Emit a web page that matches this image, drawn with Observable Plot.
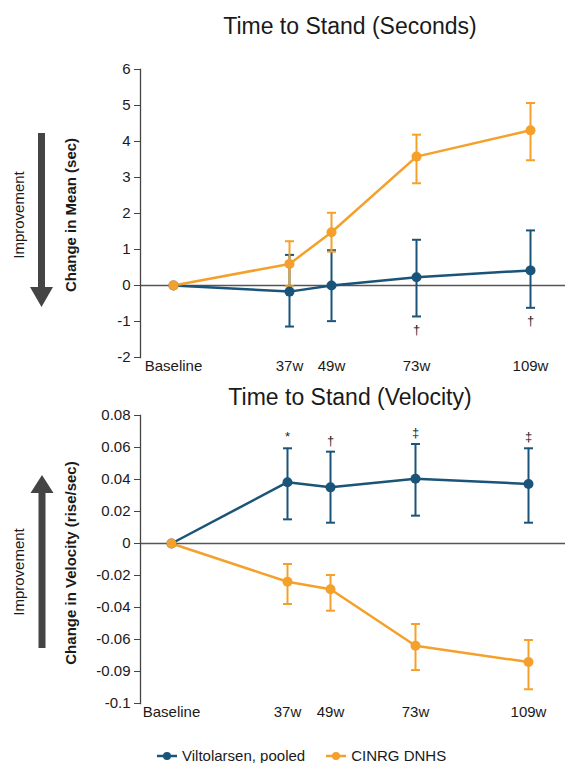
<!DOCTYPE html>
<html>
<head>
<meta charset="utf-8">
<script src="https://cdn.jsdelivr.net/npm/d3@7"></script>
<script src="https://cdn.jsdelivr.net/npm/@observablehq/plot@0.6"></script>
<style>
  html, body { margin: 0; padding: 0; background: #fff; }
  #root { position: relative; width: 565px; height: 763px; overflow: hidden; font-family: "Liberation Sans", Arial, sans-serif; color: #1a1a1a; }
  .abs { position: absolute; white-space: nowrap; line-height: 1; }
  .title { font-size: 23px; transform: translate(-50%, -50%); }
  .rot { transform: translate(-50%, -50%) rotate(-90deg); }
  .ylab { font-size: 15px; font-weight: bold; }
  .impr { font-size: 15px; }
  .chart { position: absolute; left: 0; }
  #legend { position: absolute; left: 157px; top: 747px; display: flex; align-items: center; font-size: 15px; }
  #legend .item { display: flex; align-items: center; margin-right: 21px; }
  #legend svg { margin-right: 5px; }
</style>
</head>
<body>
<div id="root"></div>
<script>
// ---------- data ----------
const seriesNames = ["Viltolarsen, pooled", "CINRG DNHS"];
const weeks = [0, 37, 49, 73, 109];
const weekLabels = ["Baseline", "37w", "49w", "73w", "109w"];

// Time to Stand (Seconds): change in mean (sec)
const secVilto   = [0, -0.17, 0.00, 0.23, 0.42];
const secViltoLo = [null, -1.14, -0.99, -0.86, -0.62];
const secViltoHi = [null, 0.85, 0.98, 1.27, 1.53];
const secCinrg   = [0, 0.60, 1.48, 3.58, 4.31];
const secCinrgLo = [null, -0.02, 0.94, 2.84, 3.48];
const secCinrgHi = [null, 1.23, 2.02, 4.19, 5.07];
const secViltoNotes = ["", "", "", "†", "†"];
const secTicks = [-2, -1, 0, 1, 2, 3, 4, 5, 6];

// Time to Stand (Velocity): change in velocity (rise/sec)
const velVilto   = [0, 0.0383, 0.0351, 0.0405, 0.0372];
const velViltoLo = [null, 0.0151, 0.0130, 0.0174, 0.0130];
const velViltoHi = [null, 0.0595, 0.0574, 0.0622, 0.0595];
const velCinrg   = [0, -0.0239, -0.0286, -0.0639, -0.0741];
const velCinrgLo = [null, -0.0378, -0.0420, -0.0791, -0.0911];
const velCinrgHi = [null, -0.0128, -0.0197, -0.0503, -0.0603];
const velViltoNotes = ["", "*", "†", "‡", "‡"];
const velTicks = [0.08, 0.06, 0.04, 0.02, 0, -0.02, -0.04, -0.06, -0.08, -0.1];
const velTickLabels = ["0.08", "0.06", "0.04", "0.02", "0", "-0.02", "-0.04", "-0.06", "-0.09", "-0.1"];

// ---------- helpers ----------
const BLUE = "#1b5479";
const ORANGE = "#f5a02a";
const colors = [BLUE, ORANGE];

function rowsFor(name, vals, lo, hi, notes) {
  return weeks.map((w, i) => ({series: name, week: w, value: vals[i], lo: lo[i], hi: hi[i], note: notes ? notes[i] : ""}));
}

const cap = { draw(ctx, size) { const w = Math.sqrt(size / Math.PI); ctx.moveTo(-w, 0); ctx.lineTo(w, 0); } };

function makeChart(cfg) {
  const marks = [
    Plot.ruleY([0], {stroke: "#555", strokeWidth: 1.5}),
    Plot.frame({anchor: "left", stroke: "#444", strokeWidth: 1.3}),
    Plot.axisY({ticks: cfg.yTicks, tickFormat: cfg.yFormat, tickSize: 6, tickPadding: 4, fontSize: 15, stroke: "#444", fill: "#1a1a1a", label: null}),
    Plot.axisX({ticks: weeks, tickFormat: d => weekLabels[weeks.indexOf(d)], tickSize: 0, tickPadding: 3, fontSize: 15, fill: "#1a1a1a", label: null})
  ];
  cfg.series.forEach((rows, k) => {
    marks.push(Plot.line(rows, {x: "week", y: "value", stroke: colors[k], strokeWidth: 2.5}));
  });
  cfg.series.forEach((rows, k) => {
    const eb = rows.filter(d => d.lo != null);
    marks.push(Plot.ruleX(eb, {x: "week", y1: "lo", y2: "hi", stroke: colors[k], strokeWidth: 2}));
    marks.push(Plot.dot(eb, {x: "week", y: "lo", symbol: cap, r: 4.5, stroke: colors[k], strokeWidth: 2, fill: "none"}));
    marks.push(Plot.dot(eb, {x: "week", y: "hi", symbol: cap, r: 4.5, stroke: colors[k], strokeWidth: 2, fill: "none"}));
  });
  cfg.series.forEach((rows, k) => {
    marks.push(Plot.dot(rows, {x: "week", y: "value", r: 5, fill: colors[k], stroke: "none"}));
  });
  const noted = cfg.series[0].filter(d => d.note);
  marks.push(Plot.text(noted, {x: "week", y: d => cfg.noteBelow ? d.lo : d.hi, text: "note", dy: cfg.noteDy, fontSize: 13, fill: "#222"}));

  return Plot.plot({
    width: 565,
    height: cfg.height,
    marginLeft: 140,
    marginRight: 0,
    marginTop: cfg.marginTop,
    marginBottom: cfg.marginBottom,
    style: {fontFamily: "Liberation Sans, Arial, sans-serif", fontSize: "15px", color: "#1a1a1a", background: "transparent", overflow: "visible"},
    x: {type: "linear", domain: weeks, range: cfg.xRange},
    y: {domain: cfg.yDomain},
    marks
  });
}

// ---------- layout ----------
const root = document.getElementById("root");
function addDiv(cls, text, x, y) {
  const d = document.createElement("div");
  d.className = "abs " + cls;
  d.textContent = text;
  d.style.left = x + "px";
  d.style.top = y + "px";
  root.appendChild(d);
  return d;
}

addDiv("title", "Time to Stand (Seconds)", 350, 26);
addDiv("title", "Time to Stand (Velocity)", 350, 397);

const chartSec = makeChart({
  height: 335, marginTop: 19, marginBottom: 28,
  yDomain: [-2, 6], yTicks: secTicks, yFormat: d => String(d),
  xRange: [173, 289, 331, 416, 530],
  series: [rowsFor(seriesNames[0], secVilto, secViltoLo, secViltoHi, secViltoNotes),
           rowsFor(seriesNames[1], secCinrg, secCinrgLo, secCinrgHi)],
  noteBelow: true, noteDy: 13
});
chartSec.classList.add("chart"); chartSec.style.top = "50px";
root.appendChild(chartSec);

const chartVel = makeChart({
  height: 325, marginTop: 10, marginBottom: 27,
  yDomain: [-0.1, 0.08], yTicks: velTicks, yFormat: d => velTickLabels[velTicks.findIndex(t => Math.abs(t - d) < 1e-9)],
  xRange: [171, 287, 330, 415, 528],
  series: [rowsFor(seriesNames[0], velVilto, velViltoLo, velViltoHi, velViltoNotes),
           rowsFor(seriesNames[1], velCinrg, velCinrgLo, velCinrgHi)],
  noteBelow: false, noteDy: -11
});
chartVel.classList.add("chart"); chartVel.style.top = "405px";
root.appendChild(chartVel);

// axis titles & improvement arrows
addDiv("rot ylab", "Change in Mean (sec)", 70, 215);
addDiv("rot impr", "Improvement", 18, 215);
addDiv("rot ylab", "Change in Velocity (rise/sec)", 70, 563);
addDiv("rot impr", "Improvement", 18, 572);

const ns = "http://www.w3.org/2000/svg";
const ov = document.createElementNS(ns, "svg");
ov.setAttribute("width", 565); ov.setAttribute("height", 763);
ov.style.position = "absolute"; ov.style.left = "0"; ov.style.top = "0"; ov.style.pointerEvents = "none";
function arrow(cx, yStart, yTip, headLen, shaftW, headW) {
  const dir = yTip > yStart ? 1 : -1;
  const yBase = yTip - dir * headLen;
  const p = document.createElementNS(ns, "path");
  p.setAttribute("d", `M${cx - shaftW/2},${yStart} L${cx + shaftW/2},${yStart} L${cx + shaftW/2},${yBase} L${cx + headW/2},${yBase} L${cx},${yTip} L${cx - headW/2},${yBase} L${cx - shaftW/2},${yBase} Z`);
  p.setAttribute("fill", "#444");
  ov.appendChild(p);
}
arrow(41.5, 133, 307, 20, 7, 23);
arrow(42, 648, 475, 18, 7, 23);
root.appendChild(ov);

// legend
const legend = document.createElement("div");
legend.id = "legend";
seriesNames.forEach((name, k) => {
  const item = document.createElement("div");
  item.className = "item";
  item.innerHTML = `<svg width="20" height="10"><line x1="0" x2="20" y1="5" y2="5" stroke="${colors[k]}" stroke-width="2.5"/><circle cx="10" cy="5" r="4" fill="${colors[k]}"/></svg><span>${name}</span>`;
  legend.appendChild(item);
});
root.appendChild(legend);
</script>
</body>
</html>
